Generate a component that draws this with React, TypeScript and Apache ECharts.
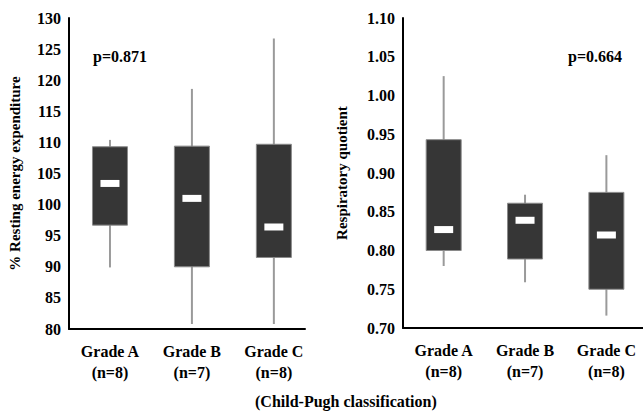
import React, { useEffect, useRef } from "react";
import * as echarts from "echarts";

const categories = ["Grade A", "Grade B", "Grade C"];
const counts = ["(n=8)", "(n=7)", "(n=8)"];

// Left panel: % Resting energy expenditure
const reeMin = [89.9, 80.8, 80.8];
const reeQ1 = [96.7, 90.0, 91.5];
const reeMedian = [103.4, 101.0, 96.4];
const reeQ3 = [109.3, 109.4, 109.7];
const reeMax = [110.4, 118.6, 126.7];

// Right panel: Respiratory quotient
const rqMin = [0.78, 0.759, 0.716];
const rqQ1 = [0.8, 0.789, 0.75];
const rqMedian = [0.827, 0.839, 0.82];
const rqQ3 = [0.943, 0.861, 0.875];
const rqMax = [1.025, 0.872, 0.923];

const pLeft = "p=0.871";
const pRight = "p=0.664";
const xTitle = "(Child-Pugh classification)";

const FONT = "Liberation Serif";

function buildData(mn: number[], q1: number[], md: number[], q3: number[], mx: number[]) {
  return categories.map((_, i) => [i, mn[i], q1[i], md[i], q3[i], mx[i]]);
}

const renderBox = (params: any, api: any) => {
  const x = api.value(0);
  const pMin = api.coord([x, api.value(1)]);
  const pQ1 = api.coord([x, api.value(2)]);
  const pMed = api.coord([x, api.value(3)]);
  const pQ3 = api.coord([x, api.value(4)]);
  const pMax = api.coord([x, api.value(5)]);
  const bw = 35;
  const mw = 19;
  const mh = 7;
  return {
    type: "group",
    children: [
      {
        type: "line",
        shape: { x1: pMin[0], y1: pMin[1], x2: pMax[0], y2: pMax[1] },
        style: { stroke: "#9a9a9a", lineWidth: 2 },
      },
      {
        type: "rect",
        shape: { x: pQ3[0] - bw / 2, y: pQ3[1], width: bw, height: pQ1[1] - pQ3[1] },
        style: { fill: "#363636", stroke: "#8a8a8a", lineWidth: 1 },
      },
      {
        type: "rect",
        shape: { x: pMed[0] - mw / 2, y: pMed[1] - mh / 2, width: mw, height: mh },
        style: { fill: "#ffffff" },
      },
    ],
  };
};

const xAxisBase = (gridIndex: number, max: number) => ({
  type: "value" as const,
  gridIndex,
  min: -0.5,
  max,
  interval: 0.5,
  axisLine: { show: true, onZero: false, lineStyle: { color: "#000", width: 2 } },
  axisTick: { show: false },
  splitLine: { show: false },
  axisLabel: {
    showMaxLabel: false,
    showMinLabel: false,
    margin: 12,
    fontFamily: FONT,
    fontWeight: "bold" as const,
    fontSize: 16,
    color: "#000",
    lineHeight: 21,
    formatter: (v: number) =>
      Number.isInteger(v) && v >= 0 && v < categories.length ? `${categories[v]}\n${counts[v]}` : "",
  },
});

const yAxisCommon = {
  nameLocation: "middle" as const,
  nameTextStyle: { fontFamily: FONT, fontWeight: "bold" as const, fontSize: 15, color: "#000" },
  axisLine: { show: true, onZero: false, lineStyle: { color: "#000", width: 2 } },
  axisTick: { show: false },
  splitLine: { show: false },
};

export default function App() {
  const ref = useRef<HTMLDivElement>(null);
  useEffect(() => {
    if (!ref.current) return;
    const chart = echarts.init(ref.current, undefined, { renderer: "svg" });
    chart.setOption({
      animation: false,
      backgroundColor: "#fff",
      grid: [
        { left: 69, top: 18, bottom: 83, width: 236 },
        { left: 403, top: 18, bottom: 84, width: 242 },
      ],
      xAxis: [xAxisBase(0, 2.38), xAxisBase(1, 2.45)],
      yAxis: [
        {
          type: "value",
          gridIndex: 0,
          min: 80,
          max: 130,
          interval: 5,
          name: "% Resting energy expenditure",
          nameGap: 47,
          ...yAxisCommon,
          axisLabel: { margin: 8, fontFamily: FONT, fontWeight: "bold", fontSize: 16, color: "#000" },
        },
        {
          type: "value",
          gridIndex: 1,
          min: 0.7,
          max: 1.1,
          interval: 0.05,
          name: "Respiratory quotient",
          nameGap: 54,
          ...yAxisCommon,
          axisLabel: {
            margin: 8,
            fontFamily: FONT,
            fontWeight: "bold",
            fontSize: 16,
            color: "#000",
            formatter: (v: number) => v.toFixed(2),
          },
        },
      ],
      series: [
        {
          type: "custom",
          xAxisIndex: 0,
          yAxisIndex: 0,
          renderItem: renderBox,
          encode: { x: 0, y: [1, 2, 3, 4, 5] },
          data: buildData(reeMin, reeQ1, reeMedian, reeQ3, reeMax),
        },
        {
          type: "custom",
          xAxisIndex: 1,
          yAxisIndex: 1,
          renderItem: renderBox,
          encode: { x: 0, y: [1, 2, 3, 4, 5] },
          data: buildData(rqMin, rqQ1, rqMedian, rqQ3, rqMax),
        },
      ],
      graphic: [
        {
          type: "text",
          left: 93,
          top: 48,
          style: { text: pLeft, fontFamily: FONT, fontWeight: "bold", fontSize: 16, fill: "#000" },
        },
        {
          type: "text",
          left: 568,
          top: 48,
          style: { text: pRight, fontFamily: FONT, fontWeight: "bold", fontSize: 16, fill: "#000" },
        },
        {
          type: "text",
          left: 255,
          top: 393,
          style: { text: xTitle, fontFamily: FONT, fontWeight: "bold", fontSize: 16, fill: "#000" },
        },
      ],
    });
    return () => chart.dispose();
  }, []);
  return <div ref={ref} style={{ position: "absolute", left: 0, top: 0, width: 643, height: 412 }} />;
}
